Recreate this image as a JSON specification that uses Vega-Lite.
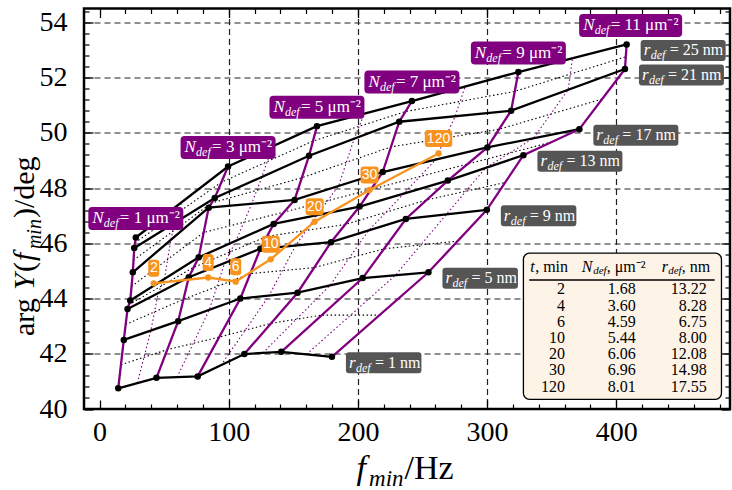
{
  "$schema": "https://vega.github.io/schema/vega-lite/v6.json",
  "width": 646,
  "height": 400.5,
  "autosize": "none",
  "padding": {"left": 84, "top": 8.5, "right": 2, "bottom": 81},
  "config": {"view": {"stroke": "black", "strokeWidth": 2.5}, "font": "Liberation Serif"},
  "datasets": {
    "nodes": [
      {"N":1,"r":1,"f":14.5,"a":40.75},{"N":1,"r":5,"f":18.8,"a":42.5},{"N":1,"r":9,"f":21.7,"a":43.62},{"N":1,"r":13,"f":23.8,"a":43.93},{"N":1,"r":17,"f":25.8,"a":44.95},{"N":1,"r":21,"f":26.9,"a":45.83},{"N":1,"r":25,"f":28.1,"a":46.21},
      {"N":3,"r":1,"f":44.1,"a":41.13},{"N":3,"r":5,"f":60.9,"a":43.18},{"N":3,"r":9,"f":69.1,"a":44.77},{"N":3,"r":13,"f":76.8,"a":45.49},{"N":3,"r":17,"f":84.5,"a":47.29},{"N":3,"r":21,"f":89.2,"a":47.64},{"N":3,"r":25,"f":99.5,"a":48.78},
      {"N":5,"r":1,"f":76.0,"a":41.18},{"N":5,"r":5,"f":109.0,"a":44.0},{"N":5,"r":9,"f":124.5,"a":45.8},{"N":5,"r":13,"f":134.8,"a":46.7},{"N":5,"r":17,"f":151.0,"a":47.57},{"N":5,"r":21,"f":162.2,"a":49.17},{"N":5,"r":25,"f":168.3,"a":50.24},
      {"N":7,"r":1,"f":112.1,"a":41.99},{"N":7,"r":5,"f":153.3,"a":44.21},{"N":7,"r":9,"f":179.2,"a":46.04},{"N":7,"r":13,"f":201.3,"a":47.33},{"N":7,"r":17,"f":219.2,"a":48.58},{"N":7,"r":21,"f":232.0,"a":50.4},{"N":7,"r":25,"f":241.8,"a":51.15},
      {"N":9,"r":1,"f":140.7,"a":42.07},{"N":9,"r":5,"f":203.7,"a":44.74},{"N":9,"r":9,"f":237.1,"a":46.88},{"N":9,"r":13,"f":269.6,"a":48.27},{"N":9,"r":17,"f":300.2,"a":49.47},{"N":9,"r":21,"f":318.6,"a":50.8},{"N":9,"r":25,"f":324.2,"a":52.2},
      {"N":11,"r":1,"f":179.9,"a":41.89},{"N":11,"r":5,"f":254.6,"a":44.95},{"N":11,"r":9,"f":299.8,"a":47.21},{"N":11,"r":13,"f":328.1,"a":49.19},{"N":11,"r":17,"f":371.4,"a":50.13},{"N":11,"r":21,"f":406.7,"a":52.31},{"N":11,"r":25,"f":408.0,"a":53.2}
    ],
    "dotR": [
      {"r":3,"N":1,"f":16.6,"a":41.6},{"r":3,"N":3,"f":52.5,"a":42.15},{"r":3,"N":5,"f":92.5,"a":42.6},{"r":3,"N":7,"f":132.7,"a":43.1},{"r":3,"N":9,"f":172.2,"a":43.4},{"r":3,"N":11,"f":217.2,"a":43.4},
      {"r":7,"N":1,"f":20.2,"a":43.06},{"r":7,"N":3,"f":65.0,"a":43.97},{"r":7,"N":5,"f":116.7,"a":44.9},{"r":7,"N":7,"f":166.2,"a":45.12},{"r":7,"N":9,"f":220.4,"a":45.8},{"r":7,"N":11,"f":277.2,"a":46.08},
      {"r":11,"N":1,"f":22.7,"a":43.77},{"r":11,"N":3,"f":73.0,"a":45.13},{"r":11,"N":5,"f":129.6,"a":46.25},{"r":11,"N":7,"f":190.2,"a":46.68},{"r":11,"N":9,"f":253.3,"a":47.57},{"r":11,"N":11,"f":314.0,"a":48.2},
      {"r":15,"N":1,"f":24.8,"a":44.44},{"r":15,"N":3,"f":80.6,"a":46.39},{"r":15,"N":5,"f":142.9,"a":47.13},{"r":15,"N":7,"f":210.2,"a":47.95},{"r":15,"N":9,"f":284.9,"a":48.87},{"r":15,"N":11,"f":349.7,"a":49.66},
      {"r":19,"N":1,"f":26.3,"a":45.39},{"r":19,"N":3,"f":86.8,"a":47.46},{"r":19,"N":5,"f":156.6,"a":48.37},{"r":19,"N":7,"f":225.6,"a":49.49},{"r":19,"N":9,"f":309.4,"a":50.13},{"r":19,"N":11,"f":389.0,"a":51.22},
      {"r":23,"N":1,"f":27.5,"a":46.02},{"r":23,"N":3,"f":94.3,"a":48.21},{"r":23,"N":5,"f":165.2,"a":49.7},{"r":23,"N":7,"f":236.9,"a":50.77},{"r":23,"N":9,"f":321.4,"a":51.5},{"r":23,"N":11,"f":407.3,"a":52.75}
    ],
    "dotN": [
      {"N":2,"r":1,"f":29.3,"a":40.94},{"N":2,"r":5,"f":39.8,"a":42.84},{"N":2,"r":9,"f":45.4,"a":44.2},{"N":2,"r":13,"f":50.3,"a":44.71},{"N":2,"r":17,"f":55.2,"a":46.12},{"N":2,"r":21,"f":58.0,"a":46.73},{"N":2,"r":25,"f":63.8,"a":47.5},
      {"N":4,"r":1,"f":60.0,"a":41.15},{"N":4,"r":5,"f":85.0,"a":43.59},{"N":4,"r":9,"f":96.8,"a":45.28},{"N":4,"r":13,"f":105.8,"a":46.1},{"N":4,"r":17,"f":117.8,"a":47.43},{"N":4,"r":21,"f":125.7,"a":48.4},{"N":4,"r":25,"f":133.9,"a":49.51},
      {"N":6,"r":1,"f":94.0,"a":41.58},{"N":6,"r":5,"f":131.2,"a":44.1},{"N":6,"r":9,"f":151.8,"a":45.92},{"N":6,"r":13,"f":168.0,"a":47.0},{"N":6,"r":17,"f":185.1,"a":48.08},{"N":6,"r":21,"f":197.1,"a":49.78},{"N":6,"r":25,"f":205.0,"a":50.7},
      {"N":8,"r":1,"f":126.4,"a":42.03},{"N":8,"r":5,"f":178.5,"a":44.48},{"N":8,"r":9,"f":208.2,"a":46.46},{"N":8,"r":13,"f":235.5,"a":47.8},{"N":8,"r":17,"f":259.7,"a":49.0},{"N":8,"r":21,"f":275.3,"a":50.6},{"N":8,"r":25,"f":283.0,"a":51.68},
      {"N":10,"r":1,"f":160.3,"a":41.98},{"N":10,"r":5,"f":229.2,"a":44.85},{"N":10,"r":9,"f":268.5,"a":47.05},{"N":10,"r":13,"f":298.9,"a":48.73},{"N":10,"r":17,"f":335.8,"a":49.8},{"N":10,"r":21,"f":362.7,"a":51.56},{"N":10,"r":25,"f":366.1,"a":52.7}
    ],
    "orange": [
      {"t":2,"f":42.0,"a":44.55},{"t":4,"f":84.1,"a":44.76},{"t":6,"f":105.4,"a":44.61},{"t":10,"f":132.5,"a":45.42},{"t":20,"f":166.5,"a":46.78},{"t":30,"f":209.0,"a":47.93},{"t":120,"f":262.4,"a":49.25}
    ],
    "nlab": [
      {"N":1,"f":28.1,"a":46.21,"txt":"= 1 μm⁻²"},{"N":3,"f":99.5,"a":48.78,"txt":"= 3 μm⁻²"},{"N":5,"f":168.3,"a":50.24,"txt":"= 5 μm⁻²"},{"N":7,"f":241.8,"a":51.15,"txt":"= 7 μm⁻²"},{"N":9,"f":324.2,"a":52.2,"txt":"= 9 μm⁻²"},{"N":11,"f":408.0,"a":53.2,"txt":"= 11 μm⁻²"}
    ],
    "rlab": [
      {"r":1,"f":179.9,"a":41.89,"txt":"= 1 nm"},{"r":5,"f":254.6,"a":44.95,"txt":"= 5 nm"},{"r":9,"f":299.8,"a":47.21,"txt":"= 9 nm"},{"r":13,"f":328.1,"a":49.19,"txt":"= 13 nm"},{"r":17,"f":371.4,"a":50.13,"txt":"= 17 nm"},{"r":21,"f":406.7,"a":52.31,"txt":"= 21 nm"},{"r":25,"f":408.0,"a":53.2,"txt":"= 25 nm"}
    ],
    "table": [
      {"tt":"2","Nd":"1.68","rd":"13.22"},{"tt":"4","Nd":"3.60","rd":"8.28"},{"tt":"6","Nd":"4.59","rd":"6.75"},{"tt":"10","Nd":"5.44","rd":"8.00"},{"tt":"20","Nd":"6.06","rd":"12.08"},{"tt":"30","Nd":"6.96","rd":"14.98"},{"tt":"120","Nd":"8.01","rd":"17.55"}
    ]
  },
  "layer": [
    {
      "layer": [
        {
          "layer": [
            {
              "data": {"name": "dotR"},
              "mark": {"type": "line", "color": "black", "strokeWidth": 1.1, "strokeDash": [1.5, 2.5]},
              "encoding": {
                "x": {"field": "f", "type": "quantitative", "scale": {"domain": [-12, 488], "nice": false, "zero": false}, "axis": null},
                "y": {"field": "a", "type": "quantitative", "scale": {"domain": [40, 54.5], "nice": false, "zero": false}, "axis": null},
                "detail": {"field": "r"},
                "order": {"field": "N"}
              }
            },
            {
              "data": {"name": "dotN"},
              "mark": {"type": "line", "color": "#800080", "strokeWidth": 1.1, "strokeDash": [1.5, 2.5]},
              "encoding": {
                "x": {"field": "f", "type": "quantitative", "axis": null},
                "y": {"field": "a", "type": "quantitative", "axis": null},
                "detail": {"field": "N"},
                "order": {"field": "r"}
              }
            },
            {
              "data": {"name": "nodes"},
              "mark": {"type": "line", "color": "black", "strokeWidth": 2.3},
              "encoding": {
                "x": {"field": "f", "type": "quantitative", "axis": null},
                "y": {"field": "a", "type": "quantitative", "axis": null},
                "detail": {"field": "r"},
                "order": {"field": "N"}
              }
            },
            {
              "data": {"name": "nodes"},
              "mark": {"type": "line", "color": "#800080", "strokeWidth": 2.3},
              "encoding": {
                "x": {"field": "f", "type": "quantitative", "axis": null},
                "y": {"field": "a", "type": "quantitative", "axis": null},
                "detail": {"field": "N"},
                "order": {"field": "r"}
              }
            },
            {
              "data": {"name": "nodes"},
              "mark": {"type": "point", "filled": true, "color": "black", "opacity": 1, "size": 42},
              "encoding": {
                "x": {"field": "f", "type": "quantitative", "axis": null},
                "y": {"field": "a", "type": "quantitative", "axis": null}
              }
            },
            {
              "data": {"name": "orange"},
              "mark": {"type": "line", "color": "#F7931E", "strokeWidth": 2.3},
              "encoding": {
                "x": {"field": "f", "type": "quantitative", "axis": null},
                "y": {"field": "a", "type": "quantitative", "axis": null},
                "order": {"field": "t"}
              }
            },
            {
              "data": {"name": "orange"},
              "mark": {"type": "point", "filled": true, "color": "#F7931E", "opacity": 1, "size": 40},
              "encoding": {
                "x": {"field": "f", "type": "quantitative", "axis": null},
                "y": {"field": "a", "type": "quantitative", "axis": null}
              }
            },
            {
              "data": {"name": "orange"},
              "mark": {"type": "point", "filled": true, "color": "#F7931E", "opacity": 1, "size": 1600, "strokeWidth": 0},
              "encoding": {
                "x": {"field": "f", "type": "quantitative", "axis": null},
                "y": {"field": "a", "type": "quantitative", "axis": null},
                "shape": {"field": "t", "type": "nominal", "legend": null, "scale": {"domain": [2, 4, 6, 10, 20, 30, 120], "range": [
                  "M-0.125,-1.175 L0.125,-1.175 Q0.275,-1.175 0.275,-1.025 L0.275,-0.475 Q0.275,-0.325 0.125,-0.325 L-0.125,-0.325 Q-0.275,-0.325 -0.275,-0.475 L-0.275,-1.025 Q-0.275,-1.175 -0.125,-1.175 Z",
                  "M-0.125,-1.175 L0.125,-1.175 Q0.275,-1.175 0.275,-1.025 L0.275,-0.475 Q0.275,-0.325 0.125,-0.325 L-0.125,-0.325 Q-0.275,-0.325 -0.275,-0.475 L-0.275,-1.025 Q-0.275,-1.175 -0.125,-1.175 Z",
                  "M-0.125,-1.175 L0.125,-1.175 Q0.275,-1.175 0.275,-1.025 L0.275,-0.475 Q0.275,-0.325 0.125,-0.325 L-0.125,-0.325 Q-0.275,-0.325 -0.275,-0.475 L-0.275,-1.025 Q-0.275,-1.175 -0.125,-1.175 Z",
                  "M-0.3,-1.175 L0.3,-1.175 Q0.45,-1.175 0.45,-1.025 L0.45,-0.475 Q0.45,-0.325 0.3,-0.325 L-0.3,-0.325 Q-0.45,-0.325 -0.45,-0.475 L-0.45,-1.025 Q-0.45,-1.175 -0.3,-1.175 Z",
                  "M-0.3,-1.175 L0.3,-1.175 Q0.45,-1.175 0.45,-1.025 L0.45,-0.475 Q0.45,-0.325 0.3,-0.325 L-0.3,-0.325 Q-0.45,-0.325 -0.45,-0.475 L-0.45,-1.025 Q-0.45,-1.175 -0.3,-1.175 Z",
                  "M-0.3,-1.175 L0.3,-1.175 Q0.45,-1.175 0.45,-1.025 L0.45,-0.475 Q0.45,-0.325 0.3,-0.325 L-0.3,-0.325 Q-0.45,-0.325 -0.45,-0.475 L-0.45,-1.025 Q-0.45,-1.175 -0.3,-1.175 Z",
                  "M-0.535,-1.175 L0.535,-1.175 Q0.685,-1.175 0.685,-1.025 L0.685,-0.475 Q0.685,-0.325 0.535,-0.325 L-0.535,-0.325 Q-0.685,-0.325 -0.685,-0.475 L-0.685,-1.025 Q-0.685,-1.175 -0.535,-1.175 Z"
                ]}}
              }
            },
            {
              "data": {"name": "orange"},
              "mark": {"type": "text", "color": "white", "font": "Liberation Sans", "fontSize": 14, "align": "center", "baseline": "middle", "dy": -15},
              "encoding": {
                "x": {"field": "f", "type": "quantitative", "axis": null},
                "y": {"field": "a", "type": "quantitative", "axis": null},
                "text": {"field": "t"}
              }
            },
            {
              "data": {"name": "nlab"},
              "mark": {"type": "point", "filled": true, "color": "#800080", "opacity": 1, "size": 12100, "strokeWidth": 0},
              "encoding": {
                "x": {"field": "f", "type": "quantitative", "axis": null},
                "y": {"field": "a", "type": "quantitative", "axis": null},
                "shape": {"field": "N", "type": "nominal", "legend": null, "scale": {"domain": [1, 3, 5, 7, 9, 11], "range": [
                  "M-0.7909,-0.5545 L0.7909,-0.5545 Q0.8636,-0.5545 0.8636,-0.4818 L0.8636,-0.2091 Q0.8636,-0.1364 0.7909,-0.1364 L-0.7909,-0.1364 Q-0.8636,-0.1364 -0.8636,-0.2091 L-0.8636,-0.4818 Q-0.8636,-0.5545 -0.7909,-0.5545 Z",
                  "M-0.7909,-0.5545 L0.7909,-0.5545 Q0.8636,-0.5545 0.8636,-0.4818 L0.8636,-0.2091 Q0.8636,-0.1364 0.7909,-0.1364 L-0.7909,-0.1364 Q-0.8636,-0.1364 -0.8636,-0.2091 L-0.8636,-0.4818 Q-0.8636,-0.5545 -0.7909,-0.5545 Z",
                  "M-0.7909,-0.5545 L0.7909,-0.5545 Q0.8636,-0.5545 0.8636,-0.4818 L0.8636,-0.2091 Q0.8636,-0.1364 0.7909,-0.1364 L-0.7909,-0.1364 Q-0.8636,-0.1364 -0.8636,-0.2091 L-0.8636,-0.4818 Q-0.8636,-0.5545 -0.7909,-0.5545 Z",
                  "M-0.7909,-0.5545 L0.7909,-0.5545 Q0.8636,-0.5545 0.8636,-0.4818 L0.8636,-0.2091 Q0.8636,-0.1364 0.7909,-0.1364 L-0.7909,-0.1364 Q-0.8636,-0.1364 -0.8636,-0.2091 L-0.8636,-0.4818 Q-0.8636,-0.5545 -0.7909,-0.5545 Z",
                  "M-0.7909,-0.5545 L0.7909,-0.5545 Q0.8636,-0.5545 0.8636,-0.4818 L0.8636,-0.2091 Q0.8636,-0.1364 0.7909,-0.1364 L-0.7909,-0.1364 Q-0.8636,-0.1364 -0.8636,-0.2091 L-0.8636,-0.4818 Q-0.8636,-0.5545 -0.7909,-0.5545 Z",
                  "M-0.7909,-0.5545 L0.9363,-0.5545 Q1.009,-0.5545 1.009,-0.4818 L1.009,-0.2091 Q1.009,-0.1364 0.9363,-0.1364 L-0.7909,-0.1364 Q-0.8636,-0.1364 -0.8636,-0.2091 L-0.8636,-0.4818 Q-0.8636,-0.5545 -0.7909,-0.5545 Z"
                ]}}
              }
            },
            {
              "data": {"name": "nlab"},
              "mark": {"type": "text", "text": "N", "color": "white", "fontSize": 17, "fontStyle": "italic", "align": "left", "baseline": "middle", "dx": -43.5, "dy": -19},
              "encoding": {
                "x": {"field": "f", "type": "quantitative", "axis": null},
                "y": {"field": "a", "type": "quantitative", "axis": null}
              }
            },
            {
              "data": {"name": "nlab"},
              "mark": {"type": "text", "text": "def", "color": "white", "fontSize": 12, "fontStyle": "italic", "align": "left", "baseline": "middle", "dx": -32, "dy": -14},
              "encoding": {
                "x": {"field": "f", "type": "quantitative", "axis": null},
                "y": {"field": "a", "type": "quantitative", "axis": null}
              }
            },
            {
              "data": {"name": "nlab"},
              "mark": {"type": "text", "color": "white", "fontSize": 17, "align": "left", "baseline": "middle", "dx": -16, "dy": -19},
              "encoding": {
                "x": {"field": "f", "type": "quantitative", "axis": null},
                "y": {"field": "a", "type": "quantitative", "axis": null},
                "text": {"field": "txt"}
              }
            },
            {
              "data": {"name": "rlab"},
              "mark": {"type": "point", "filled": true, "color": "#555555", "opacity": 1, "size": 40000, "strokeWidth": 0},
              "encoding": {
                "x": {"field": "f", "type": "quantitative", "axis": null},
                "y": {"field": "a", "type": "quantitative", "axis": null},
                "shape": {"field": "r", "type": "nominal", "legend": null, "scale": {"domain": [1, 5, 9, 13, 17, 21, 25], "range": [
                  "M0.17,-0.045 L0.865,-0.045 Q0.895,-0.045 0.895,-0.015 L0.895,0.135 Q0.895,0.165 0.865,0.165 L0.17,0.165 Q0.14,0.165 0.14,0.135 L0.14,-0.015 Q0.14,-0.045 0.17,-0.045 Z",
                  "M0.17,-0.045 L0.865,-0.045 Q0.895,-0.045 0.895,-0.015 L0.895,0.135 Q0.895,0.165 0.865,0.165 L0.17,0.165 Q0.14,0.165 0.14,0.135 L0.14,-0.015 Q0.14,-0.045 0.17,-0.045 Z",
                  "M0.17,-0.045 L0.865,-0.045 Q0.895,-0.045 0.895,-0.015 L0.895,0.135 Q0.895,0.165 0.865,0.165 L0.17,0.165 Q0.14,0.165 0.14,0.135 L0.14,-0.015 Q0.14,-0.045 0.17,-0.045 Z",
                  "M0.17,-0.045 L0.96,-0.045 Q0.99,-0.045 0.99,-0.015 L0.99,0.135 Q0.99,0.165 0.96,0.165 L0.17,0.165 Q0.14,0.165 0.14,0.135 L0.14,-0.015 Q0.14,-0.045 0.17,-0.045 Z",
                  "M0.17,-0.045 L0.96,-0.045 Q0.99,-0.045 0.99,-0.015 L0.99,0.135 Q0.99,0.165 0.96,0.165 L0.17,0.165 Q0.14,0.165 0.14,0.135 L0.14,-0.015 Q0.14,-0.045 0.17,-0.045 Z",
                  "M0.17,-0.045 L0.96,-0.045 Q0.99,-0.045 0.99,-0.015 L0.99,0.135 Q0.99,0.165 0.96,0.165 L0.17,0.165 Q0.14,0.165 0.14,0.135 L0.14,-0.015 Q0.14,-0.045 0.17,-0.045 Z",
                  "M0.17,-0.045 L0.96,-0.045 Q0.99,-0.045 0.99,-0.015 L0.99,0.135 Q0.99,0.165 0.96,0.165 L0.17,0.165 Q0.14,0.165 0.14,0.135 L0.14,-0.015 Q0.14,-0.045 0.17,-0.045 Z"
                ]}}
              }
            },
            {
              "data": {"name": "rlab"},
              "mark": {"type": "text", "text": "r", "color": "white", "fontSize": 17, "fontStyle": "italic", "align": "left", "baseline": "middle", "dx": 17, "dy": 6},
              "encoding": {
                "x": {"field": "f", "type": "quantitative", "axis": null},
                "y": {"field": "a", "type": "quantitative", "axis": null}
              }
            },
            {
              "data": {"name": "rlab"},
              "mark": {"type": "text", "text": "def", "color": "white", "fontSize": 12, "fontStyle": "italic", "align": "left", "baseline": "middle", "dx": 24, "dy": 11},
              "encoding": {
                "x": {"field": "f", "type": "quantitative", "axis": null},
                "y": {"field": "a", "type": "quantitative", "axis": null}
              }
            },
            {
              "data": {"name": "rlab"},
              "mark": {"type": "text", "color": "white", "fontSize": 16, "align": "left", "baseline": "middle", "dx": 43, "dy": 6},
              "encoding": {
                "x": {"field": "f", "type": "quantitative", "axis": null},
                "y": {"field": "a", "type": "quantitative", "axis": null},
                "text": {"field": "txt"}
              }
            },
            {
              "data": {"values": [{}]},
              "mark": {"type": "rect", "fill": "#FDF3E7", "stroke": "black", "strokeWidth": 1.3, "cornerRadius": 6},
              "encoding": {
                "x": {"datum": 328.1, "type": "quantitative", "axis": null},
                "x2": {"datum": 481.4},
                "y": {"datum": 45.64, "type": "quantitative", "axis": null},
                "y2": {"datum": 40.35}
              }
            },
            {
              "data": {"values": [{}]},
              "mark": {"type": "rule", "color": "black", "strokeWidth": 1.3},
              "encoding": {
                "x": {"datum": 332.6, "type": "quantitative", "axis": null},
                "x2": {"datum": 476.2},
                "y": {"datum": 44.67, "type": "quantitative", "axis": null}
              }
            },
            {"data": {"values": [{}]}, "mark": {"type": "text", "text": "t", "fontSize": 16, "fontStyle": "italic", "align": "left", "baseline": "middle", "color": "black"},
             "encoding": {"x": {"datum": 333.3, "type": "quantitative", "axis": null}, "y": {"datum": 45.13, "type": "quantitative", "axis": null}}},
            {"data": {"values": [{}]}, "mark": {"type": "text", "text": ", min", "fontSize": 16, "align": "left", "baseline": "middle", "color": "black", "dx": 5},
             "encoding": {"x": {"datum": 333.3, "type": "quantitative", "axis": null}, "y": {"datum": 45.13, "type": "quantitative", "axis": null}}},
            {"data": {"values": [{}]}, "mark": {"type": "text", "text": "N", "fontSize": 16, "fontStyle": "italic", "align": "left", "baseline": "middle", "color": "black"},
             "encoding": {"x": {"datum": 373.2, "type": "quantitative", "axis": null}, "y": {"datum": 45.13, "type": "quantitative", "axis": null}}},
            {"data": {"values": [{}]}, "mark": {"type": "text", "text": "def", "fontSize": 11, "fontStyle": "italic", "align": "left", "baseline": "middle", "color": "black", "dx": 11.5, "dy": 4},
             "encoding": {"x": {"datum": 373.2, "type": "quantitative", "axis": null}, "y": {"datum": 45.13, "type": "quantitative", "axis": null}}},
            {"data": {"values": [{}]}, "mark": {"type": "text", "text": ", μm⁻²", "fontSize": 16, "align": "left", "baseline": "middle", "color": "black", "dx": 25},
             "encoding": {"x": {"datum": 373.2, "type": "quantitative", "axis": null}, "y": {"datum": 45.13, "type": "quantitative", "axis": null}}},
            {"data": {"values": [{}]}, "mark": {"type": "text", "text": "r", "fontSize": 16, "fontStyle": "italic", "align": "left", "baseline": "middle", "color": "black"},
             "encoding": {"x": {"datum": 435.1, "type": "quantitative", "axis": null}, "y": {"datum": 45.13, "type": "quantitative", "axis": null}}},
            {"data": {"values": [{}]}, "mark": {"type": "text", "text": "def", "fontSize": 11, "fontStyle": "italic", "align": "left", "baseline": "middle", "color": "black", "dx": 6.5, "dy": 4},
             "encoding": {"x": {"datum": 435.1, "type": "quantitative", "axis": null}, "y": {"datum": 45.13, "type": "quantitative", "axis": null}}},
            {"data": {"values": [{}]}, "mark": {"type": "text", "text": ", nm", "fontSize": 16, "align": "left", "baseline": "middle", "color": "black", "dx": 20},
             "encoding": {"x": {"datum": 435.1, "type": "quantitative", "axis": null}, "y": {"datum": 45.13, "type": "quantitative", "axis": null}}},
            {"data": {"values": [{}]}, "mark": {"type": "text", "text": "f", "fontSize": 34, "fontStyle": "italic", "align": "left", "baseline": "alphabetic", "color": "black"},
             "encoding": {"x": {"datum": 199.0, "type": "quantitative", "axis": null}, "y": {"datum": 37.48, "type": "quantitative", "axis": null}}},
            {"data": {"values": [{}]}, "mark": {"type": "text", "text": "min", "fontSize": 23, "fontStyle": "italic", "align": "left", "baseline": "alphabetic", "color": "black", "dx": 12.5, "dy": 7},
             "encoding": {"x": {"datum": 199.0, "type": "quantitative", "axis": null}, "y": {"datum": 37.48, "type": "quantitative", "axis": null}}},
            {"data": {"values": [{}]}, "mark": {"type": "text", "text": "/Hz", "fontSize": 34, "align": "left", "baseline": "alphabetic", "color": "black", "dx": 48},
             "encoding": {"x": {"datum": 199.0, "type": "quantitative", "axis": null}, "y": {"datum": 37.48, "type": "quantitative", "axis": null}}},
            {"data": {"values": [{}]}, "mark": {"type": "text", "text": "arg", "fontSize": 30, "angle": 270, "align": "left", "baseline": "alphabetic", "color": "black"},
             "encoding": {"x": {"datum": -51, "type": "quantitative", "axis": null}, "y": {"datum": 42.64, "type": "quantitative", "axis": null}}},
            {"data": {"values": [{}]}, "mark": {"type": "text", "text": "Y", "fontSize": 30, "fontStyle": "italic", "angle": 270, "align": "left", "baseline": "alphabetic", "color": "black", "dx": 46},
             "encoding": {"x": {"datum": -51, "type": "quantitative", "axis": null}, "y": {"datum": 42.64, "type": "quantitative", "axis": null}}},
            {"data": {"values": [{}]}, "mark": {"type": "text", "text": "(", "fontSize": 30, "angle": 270, "align": "left", "baseline": "alphabetic", "color": "black", "dx": 64},
             "encoding": {"x": {"datum": -51, "type": "quantitative", "axis": null}, "y": {"datum": 42.64, "type": "quantitative", "axis": null}}},
            {"data": {"values": [{}]}, "mark": {"type": "text", "text": "f", "fontSize": 30, "fontStyle": "italic", "angle": 270, "align": "left", "baseline": "alphabetic", "color": "black", "dx": 75},
             "encoding": {"x": {"datum": -51, "type": "quantitative", "axis": null}, "y": {"datum": 42.64, "type": "quantitative", "axis": null}}},
            {"data": {"values": [{}]}, "mark": {"type": "text", "text": "min", "fontSize": 20, "fontStyle": "italic", "angle": 270, "align": "left", "baseline": "alphabetic", "color": "black", "dx": 87, "dy": 7},
             "encoding": {"x": {"datum": -51, "type": "quantitative", "axis": null}, "y": {"datum": 42.64, "type": "quantitative", "axis": null}}},
            {"data": {"values": [{}]}, "mark": {"type": "text", "text": ")/deg", "fontSize": 30, "angle": 270, "align": "left", "baseline": "alphabetic", "color": "black", "dx": 118},
             "encoding": {"x": {"datum": -51, "type": "quantitative", "axis": null}, "y": {"datum": 42.64, "type": "quantitative", "axis": null}}}
          ],
          "resolve": {"scale": {"shape": "independent"}}
        },
        {
          "data": {"name": "nodes"},
          "mark": {"type": "point", "opacity": 0},
          "encoding": {
            "x": {"field": "f", "type": "quantitative", "axis": {"orient": "bottom", "values": [0, 100, 200, 300, 400], "title": null, "ticks": false, "grid": false, "domain": false, "labelFont": "Liberation Serif", "labelFontSize": 28, "labelColor": "black", "labelPadding": 9, "labelFlush": false, "labelOverlap": false}},
            "y": {"field": "a", "type": "quantitative", "axis": {"orient": "left", "values": [40, 42, 44, 46, 48, 50, 52, 54], "title": null, "ticks": false, "grid": false, "domain": false, "labelFont": "Liberation Serif", "labelFontSize": 28, "labelColor": "black", "labelPadding": 17, "labelFlush": false, "labelOverlap": false}}
          }
        },
        {
          "data": {"name": "nodes"},
          "mark": {"type": "point", "opacity": 0},
          "encoding": {
            "x": {"field": "f", "type": "quantitative", "axis": {"orient": "bottom", "values": [0,100,200,300,400], "title": null, "labels": false, "grid": false, "domain": false, "tickSize": -9, "tickWidth": 1.3, "tickColor": "black"}},
            "y": {"field": "a", "type": "quantitative", "axis": {"orient": "left", "values": [40,42,44,46,48,50,52,54], "title": null, "labels": false, "grid": false, "domain": false, "tickSize": -9, "tickWidth": 1.3, "tickColor": "black"}}
          }
        },
        {
          "data": {"name": "nodes"},
          "mark": {"type": "point", "opacity": 0},
          "encoding": {
            "x": {"field": "f", "type": "quantitative", "axis": {"orient": "bottom", "values": [20,40,60,80,120,140,160,180,220,240,260,280,320,340,360,380,420,440,460,480], "title": null, "labels": false, "grid": false, "domain": false, "tickSize": -5, "tickWidth": 1.2, "tickColor": "black"}},
            "y": {"field": "a", "type": "quantitative", "axis": {"orient": "left", "values": [40.4,40.8,41.2,41.6,42.4,42.8,43.2,43.6,44.4,44.8,45.2,45.6,46.4,46.8,47.2,47.6,48.4,48.8,49.2,49.6,50.4,50.8,51.2,51.6,52.4,52.8,53.2,53.6,54.4], "title": null, "labels": false, "grid": false, "domain": false, "tickSize": -5, "tickWidth": 1.2, "tickColor": "black"}}
          }
        },
        {
          "data": {"name": "nodes"},
          "mark": {"type": "point", "opacity": 0},
          "encoding": {
            "x": {"field": "f", "type": "quantitative", "axis": {"orient": "top", "values": [0,100,200,300,400], "title": null, "labels": false, "grid": false, "domain": false, "tickSize": -9, "tickWidth": 1.3, "tickColor": "black"}},
            "y": {"field": "a", "type": "quantitative", "axis": {"orient": "right", "values": [40,42,44,46,48,50,52,54], "title": null, "labels": false, "grid": false, "domain": false, "tickSize": -9, "tickWidth": 1.3, "tickColor": "black"}}
          }
        },
        {
          "data": {"name": "nodes"},
          "mark": {"type": "point", "opacity": 0},
          "encoding": {
            "x": {"field": "f", "type": "quantitative", "axis": {"orient": "top", "values": [20,40,60,80,120,140,160,180,220,240,260,280,320,340,360,380,420,440,460,480], "title": null, "labels": false, "grid": false, "domain": false, "tickSize": -5, "tickWidth": 1.2, "tickColor": "black"}},
            "y": {"field": "a", "type": "quantitative", "axis": {"orient": "right", "values": [40.4,40.8,41.2,41.6,42.4,42.8,43.2,43.6,44.4,44.8,45.2,45.6,46.4,46.8,47.2,47.6,48.4,48.8,49.2,49.6,50.4,50.8,51.2,51.6,52.4,52.8,53.2,53.6,54.4], "title": null, "labels": false, "grid": false, "domain": false, "tickSize": -5, "tickWidth": 1.2, "tickColor": "black"}}
          }
        },
        {
          "data": {"name": "nodes"},
          "mark": {"type": "point", "opacity": 0},
          "encoding": {
            "x": {"field": "f", "type": "quantitative", "axis": {"orient": "bottom", "values": [100,200,300,400], "title": null, "labels": false, "ticks": false, "grid": true, "gridColor": "#222222", "gridDash": [6, 4], "gridWidth": 1.2, "domain": false}},
            "y": {"field": "a", "type": "quantitative", "axis": {"orient": "left", "values": [42,44,46,48,50,52,54], "title": null, "labels": false, "ticks": false, "grid": true, "gridColor": "#222222", "gridDash": [6, 4], "gridWidth": 1.2, "domain": false}}
          }
        }
      ],
      "resolve": {"axis": {"x": "independent", "y": "independent"}}
    },
    {
      "data": {"name": "table"},
      "transform": [{"fold": ["tt", "Nd", "rd"], "as": ["col", "val"]}],
      "mark": {"type": "text", "align": "right", "baseline": "middle", "fontSize": 16, "color": "black"},
      "encoding": {
        "x": {"field": "col", "type": "nominal", "scale": {"type": "point", "domain": ["tt", "Nd", "rd"], "range": [481, 622.7], "padding": 0}, "axis": null},
        "y": {"field": "tt", "type": "nominal", "scale": {"type": "point", "domain": ["2", "4", "6", "10", "20", "30", "120"], "range": [280.8, 378.2], "padding": 0}, "axis": null},
        "text": {"field": "val"}
      }
    }
  ],
  "resolve": {"scale": {"x": "independent", "y": "independent"}}
}
